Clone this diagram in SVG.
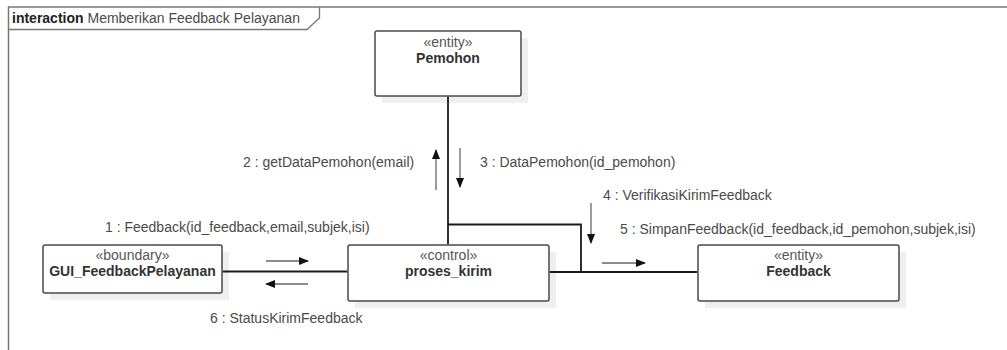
<svg xmlns="http://www.w3.org/2000/svg" width="1007" height="350" viewBox="0 0 1007 350">
<style>
text{font-family:"Liberation Sans",Arial,sans-serif;font-size:14px;fill:#4a4a4a}
.st{text-anchor:middle;fill:#555}
.nm{text-anchor:middle;font-weight:bold;fill:#333}
.box{fill:#fff;stroke:#4a4a4a;stroke-width:1.5}
.sh{fill:#efefef}
.conn{fill:none;stroke:#1a1a1a;stroke-width:1.8}
.msg{stroke:#666;stroke-width:1.3;fill:none}
</style>
<defs>
<marker id="ah" markerWidth="10" markerHeight="8" refX="9" refY="4" orient="auto" markerUnits="userSpaceOnUse">
<path d="M0,0 L10,4 L0,8 Z" fill="#111"/>
</marker>
</defs>
<rect width="1007" height="350" fill="#fff"/>
<g id="frame">
<path d="M8.5,350 V7 H1007" fill="none" stroke="#777" stroke-width="1.5"/>
<path d="M8.5,29.5 H307 L319.5,18 V7" fill="none" stroke="#777" stroke-width="1.3"/>
<text x="12" y="23"><tspan font-weight="bold" fill="#222">interaction</tspan> Memberikan Feedback Pelayanan</text>
</g>
<g id="node-pemohon">
<rect class="sh" x="382" y="38" width="146" height="65"/>
<rect class="box" x="375" y="31" width="146" height="65" rx="2"/>
<text class="st" x="448" y="47">«entity»</text>
<text class="nm" x="448" y="63">Pemohon</text>
</g>
<g id="node-gui">
<rect class="sh" x="50" y="252" width="179" height="48"/>
<rect class="box" x="43" y="245" width="179" height="48" rx="2"/>
<text class="st" x="132.5" y="260">«boundary»</text>
<text class="nm" x="132.5" y="276">GUI_FeedbackPelayanan</text>
</g>
<g id="node-proses">
<rect class="sh" x="355" y="252" width="201" height="56"/>
<rect class="box" x="348" y="245" width="201" height="56" rx="2"/>
<text class="st" x="448.5" y="260">«control»</text>
<text class="nm" x="448.5" y="276">proses_kirim</text>
</g>
<g id="node-feedback">
<rect class="sh" x="705" y="252" width="201" height="56"/>
<rect class="box" x="698" y="245" width="201" height="56" rx="2"/>
<text class="st" x="798.5" y="260">«entity»</text>
<text class="nm" x="798.5" y="276">Feedback</text>
</g>
<g id="connectors">
<path class="conn" d="M448,96.8 V244.2"/>
<path class="conn" d="M448,224.5 H581 V272"/>
<path class="conn" d="M222.8,271.5 H347.2"/>
<path class="conn" d="M549.8,272 H697.2"/>
</g>
<g id="messages">
<line class="msg" x1="266" y1="261" x2="308" y2="261" marker-end="url(#ah)"/>
<text x="105" y="232">1 : Feedback(id_feedback,email,subjek,isi)</text>
<line class="msg" x1="308" y1="284" x2="266" y2="284" marker-end="url(#ah)"/>
<text x="210" y="323">6 : StatusKirimFeedback</text>
<line class="msg" x1="436" y1="190" x2="436" y2="150" marker-end="url(#ah)"/>
<text x="243" y="167">2 : getDataPemohon(email)</text>
<line class="msg" x1="460" y1="148" x2="460" y2="187" marker-end="url(#ah)"/>
<text x="480" y="167">3 : DataPemohon(id_pemohon)</text>
<line class="msg" x1="591" y1="203" x2="591" y2="243" marker-end="url(#ah)"/>
<text x="603" y="200">4 : VerifikasiKirimFeedback</text>
<line class="msg" x1="602" y1="263" x2="645" y2="263" marker-end="url(#ah)"/>
<text x="620" y="234">5 : SimpanFeedback(id_feedback,id_pemohon,subjek,isi)</text>
</g>
</svg>
